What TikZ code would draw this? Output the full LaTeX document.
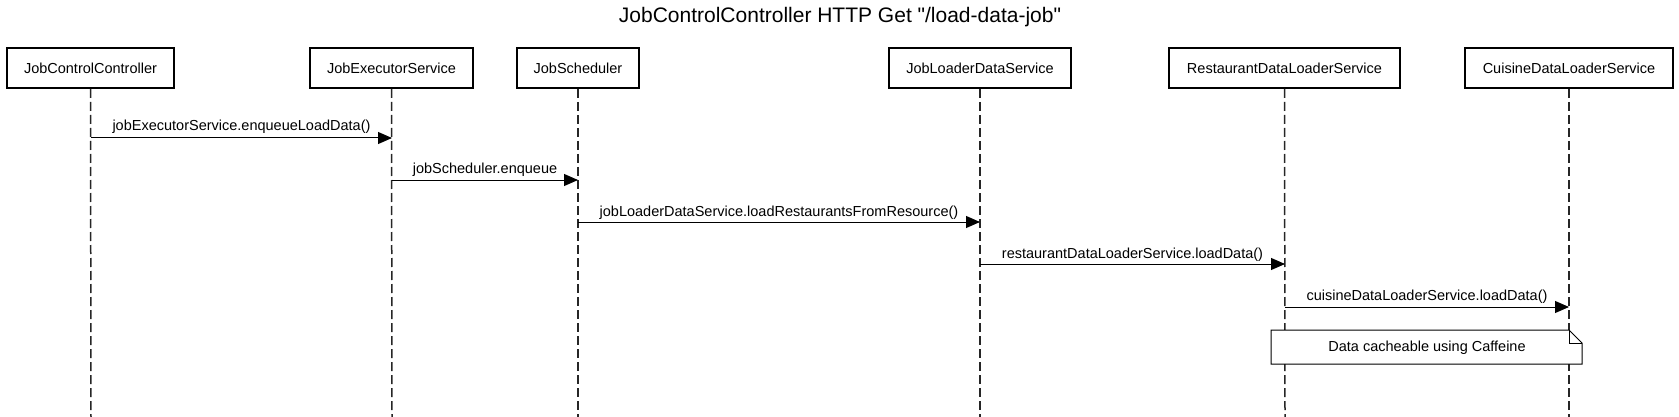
\documentclass[tikz,border=0pt]{standalone}
\usepackage{fontspec}
\setmainfont{Liberation Sans}[Ligatures=TeXOff]
\usetikzlibrary{arrows.meta}
\begin{document}
\begin{tikzpicture}[x=1pt,y=-1pt,
  actor/.style={draw=black,line width=2pt,fill=white,minimum height=40pt,inner sep=0pt,font=\fontsize{14.5}{16}\selectfont,text=black},
  life/.style={draw=black!85,line width=1.5pt,dash pattern=on 9pt off 4pt},
  msg/.style={draw=black,line width=1pt,-{Triangle[length=14pt,width=12pt]}},
  lbl/.style={font=\fontsize{14.5}{16}\selectfont,anchor=base,inner sep=0pt},
  notebox/.style={draw=black,line width=1pt,fill=white}]
\useasboundingbox (0,0) rectangle (1679,417);
\node[font=\fontsize{21}{24}\selectfont,anchor=base] (title) at (840,23) {JobControlController HTTP Get "/load-data-job"};
% actors
\node[actor,minimum width=167pt] (a1) at (90.5,68) {JobControlController};
\node[actor,minimum width=163pt] (a2) at (391.5,68) {JobExecutorService};
\node[actor,minimum width=122pt] (a3) at (578,68) {JobScheduler};
\node[actor,minimum width=182pt] (a4) at (980,68) {JobLoaderDataService};
\node[actor,minimum width=231pt] (a5) at (1284.5,68) {RestaurantDataLoaderService};
\node[actor,minimum width=208pt] (a6) at (1569,68) {CuisineDataLoaderService};
% lifeline ends
\coordinate (e1) at (91,417);
\coordinate (e2) at (392,417);
\coordinate (e3) at (578,417);
\coordinate (e4) at (980,417);
\coordinate (e5) at (1285,417);
\coordinate (e6) at (1569,417);
\foreach \i in {1,...,6}{\draw[life] (a\i.south) -- (e\i);}
% message points
\coordinate (m1s) at (91,138);  \coordinate (m1e) at (392,138);
\coordinate (m2s) at (392,180); \coordinate (m2e) at (578,180);
\coordinate (m3s) at (578,222); \coordinate (m3e) at (980,222);
\coordinate (m4s) at (980,264); \coordinate (m4e) at (1285,264);
\coordinate (m5s) at (1285,307);\coordinate (m5e) at (1569,307);
\draw[msg] (m1s) -- (m1e);
\draw[msg] (m2s) -- (m2e);
\draw[msg] (m3s) -- (m3e);
\draw[msg] (m4s) -- (m4e);
\draw[msg] (m5s) -- (m5e);
\node[lbl] (l1) at (241.5,131) {jobExecutorService.enqueueLoadData()};
\node[lbl] (l2) at (485,173) {jobScheduler.enqueue};
\node[lbl] (l3) at (779,216) {jobLoaderDataService.loadRestaurantsFromResource()};
\node[lbl] (l4) at (1132.5,258) {restaurantDataLoaderService.loadData()};
\node[lbl] (l5) at (1427,300) {cuisineDataLoaderService.loadData()};
% note
\draw[notebox] (1271,330) -- (1569,330) -- (1582,343) -- (1582,364) -- (1271,364) -- cycle;
\draw[line width=1pt] (1569,330) -- (1569,343) -- (1582,343);
\node[lbl] (note) at (1427,351) {Data cacheable using Caffeine};
\end{tikzpicture}
\end{document}
